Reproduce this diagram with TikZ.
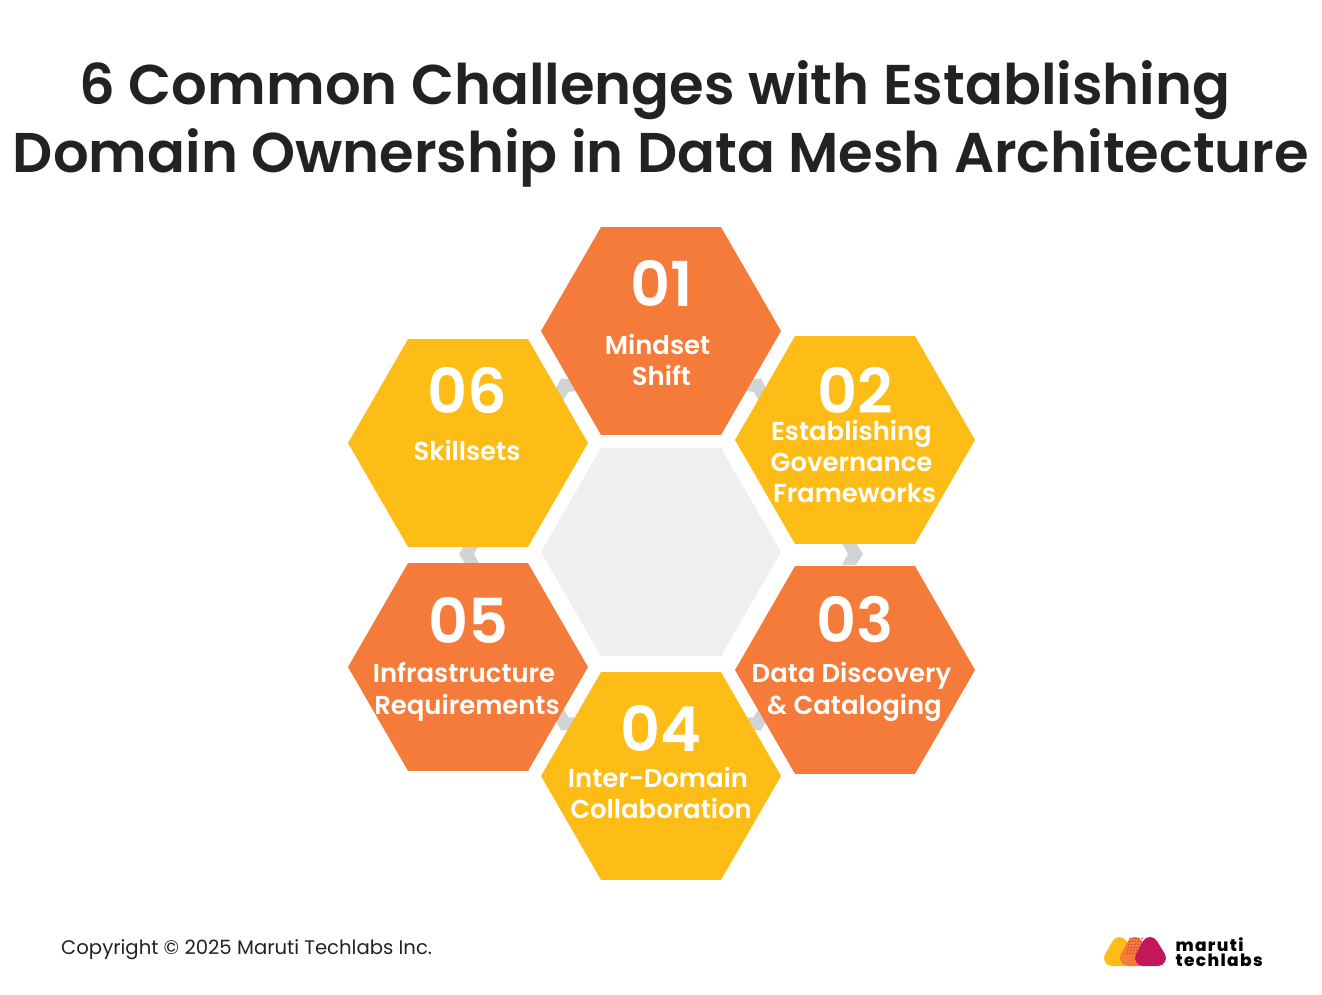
\documentclass[tikz,border=0pt]{standalone}
\usepackage{fontspec}
\setmainfont{Poppins}
\newfontfamily\popsemi{Poppins SemiBold}
\newfontfamily\poplogo[LetterSpace=8]{Poppins ExtraBold}
\usepackage[HTML]{xcolor}
\usetikzlibrary{shapes.geometric}
\definecolor{hexorange}{HTML}{F57B3A}
\definecolor{hexyellow}{HTML}{FDBD16}
\definecolor{hexgrey}{HTML}{EFEFEF}
\definecolor{chevgrey}{HTML}{D1D3D4}
\definecolor{inkdark}{HTML}{222222}
\definecolor{logored}{HTML}{C2185B}
\tikzset{
  hexcell/.style={regular polygon, regular polygon sides=6, minimum size=240pt, inner sep=0pt, outer sep=0pt},
  hexnum/.style={font=\popsemi\fontsize{62}{62}\selectfont, text=white},
  hexlabel/.style={font=\popsemi\fontsize{25.9}{31}\selectfont, text=white, align=center},
  titleline/.style={font=\popsemi\fontsize{56}{60}\selectfont, text=inkdark},
  logotext/.style={font=\poplogo\fontsize{17}{15.5}\selectfont, text=black, align=left},
  logoblob/.style={line width=16pt, line join=round}
}
\newcommand{\chevmark}[3]{\fill[chevgrey, shift={(#1,#2)}, rotate=#3] (-9,-11)--(5,-11)--(12,0)--(5,11)--(-9,11)--(-3,0)--cycle;}
\begin{document}
\begin{tikzpicture}[x=1pt, y=-1pt]
\useasboundingbox (0,0) rectangle (1322,995);
% title
\node[titleline] (title1) at (655,90) {6 Common Challenges with Establishing};
\node[titleline] (title2) at (661,158) {Domain Ownership in Data Mesh Architecture};
% chevrons go under the cells
\chevmark{851}{554}{0}
\chevmark{471}{554}{180}
\chevmark{567}{389}{120}
\chevmark{755}{389}{60}
\chevmark{567}{720}{240}
\chevmark{755}{720}{300}
% cells
\node[hexcell, fill=hexgrey] (mid) at (661,552) {};
\node[hexcell, fill=hexorange] (h1) at (661,331) {};
\node[hexcell, fill=hexyellow] (h2) at (855,440) {};
\node[hexcell, fill=hexorange] (h3) at (855,670) {};
\node[hexcell, fill=hexyellow] (h4) at (661,776) {};
\node[hexcell, fill=hexorange] (h5) at (468,667) {};
\node[hexcell, fill=hexyellow] (h6) at (468,443) {};
% numbers
\node[hexnum] (n1) at (661.5,283) {01};
\node[hexnum] (n2) at (855.5,390) {02};
\node[hexnum] (n3) at (855,620) {03};
\node[hexnum] (n4) at (661,728) {04};
\node[hexnum] (n5) at (468,620) {05};
\node[hexnum] (n6) at (467.5,390) {06};
% labels
\node[hexlabel] (l1) at (661.5,360) {Mindset\hspace*{8pt}\\Shift};
\node[hexlabel] (l2) at (851.5,461) {Establishing\\Governance\\\hspace*{6pt}Frameworks};
\node[hexlabel] (l3) at (854.5,691.5) {Data Discovery\hspace*{6pt}\\[1pt]\& Cataloging};
\node[hexlabel] (l4) at (661,793) {Inter-Domain\hspace*{6pt}\\Collaboration};
\node[hexlabel] (l5) at (467,691.5) {Infrastructure\hspace*{6pt}\\[1pt]Requirements};
\node[hexlabel] (l6) at (467,450) {Skillsets};
% footer
\node[anchor=west, font=\fontsize{19.65}{24}\selectfont, text=inkdark] (copy) at (57.7,950) {Copyright © 2025 Maruti Techlabs Inc.};
% logo
\filldraw[hexyellow, logoblob] (1119.5,945)--(1112,958)--(1127,958)--cycle;
\filldraw[hexorange, logoblob] (1135,945)--(1128,958)--(1143,958)--cycle;
\foreach \dy in {0,3,...,15}
  \foreach \dx in {0,3,...,12}
    \fill[logored!65!hexorange] (1130+\dx-\dy/5,938.5+\dy) circle (0.8);
\filldraw[logored, logoblob] (1150,945)--(1143,958)--(1158,958)--cycle;
\node[logotext, anchor=west] (logo) at (1172,952) {maruti\\techlabs};
\end{tikzpicture}
\end{document}
